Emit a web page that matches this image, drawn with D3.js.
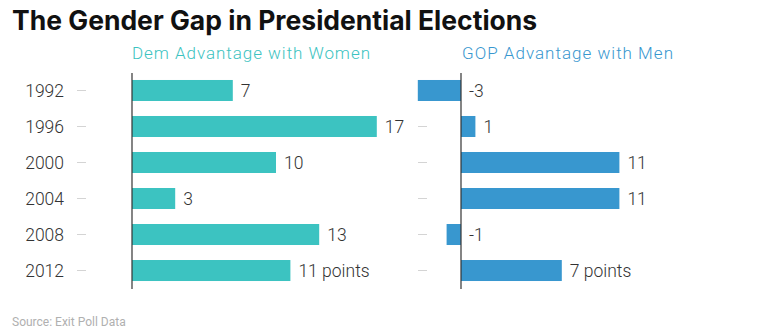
<!DOCTYPE html>
<html>
<head>
<meta charset="utf-8">
<script src="https://cdn.jsdelivr.net/npm/d3@7"></script>
<style>
  body { margin: 0; background: #fff; }
  svg text { font-family: Roboto, "Open Sans", sans-serif; }
</style>
</head>
<body>
<svg id="chart" width="760" height="329"></svg>
<script>
// data
var years = ["1992", "1996", "2000", "2004", "2008", "2012"];
var demWomen = [7, 17, 10, 3, 13, 11];
var gopMen = [-3, 1, 11, 11, -1, 7];

var svg = d3.select("#chart");

// same band scale for both panels
var y = d3.scaleBand()
    .domain(years)
    .range([73, 288])
    .paddingInner(15 / 36)
    .paddingOuter(0.194);

// 14.4 px per point, both panels
var xLeft = d3.scaleLinear().domain([0, 17]).range([132, 376.8]);
var xRight = d3.scaleLinear().domain([-3, 11]).range([461 - 43.2, 461 + 158.4]);

svg.append("text")
    .attr("x", 12).attr("y", 30)
    .style("font-family", "Inter, sans-serif")
    .style("font-weight", "bold")
    .style("font-size", "26.5px")
    .attr("fill", "#111")
    .text("The Gender Gap in Presidential Elections");

svg.append("text")
    .attr("x", 132).attr("y", 59)
    .style("font-weight", 300)
    .style("font-size", "17px")
    .attr("textLength", 238)
    .attr("fill", "#3cc3c1")
    .text("Dem Advantage with Women");

svg.append("text")
    .attr("x", 462).attr("y", 59)
    .style("font-weight", 300)
    .style("font-size", "17px")
    .attr("textLength", 211)
    .attr("fill", "#3897cf")
    .text("GOP Advantage with Men");

// year labels
svg.append("g").selectAll("text")
    .data(years)
    .enter().append("text")
    .attr("x", 64)
    .attr("y", function(d) { return y(d) + y.bandwidth() / 2; })
    .attr("dy", "0.35em")
    .attr("text-anchor", "end")
    .style("font-weight", 300)
    .style("font-size", "17.5px")
    .attr("fill", "#333")
    .text(function(d) { return d; });

function panel(x, values, color, tickX) {
    var g = svg.append("g");

    // little grey ticks left of each panel
    g.selectAll("line.tick")
        .data(years)
        .enter().append("line")
        .attr("class", "tick")
        .attr("x1", tickX).attr("x2", tickX + 9)
        .attr("y1", function(d) { return y(d) + y.bandwidth() / 2; })
        .attr("y2", function(d) { return y(d) + y.bandwidth() / 2; })
        .attr("stroke", "#d4d4d4");

    g.selectAll("rect")
        .data(values)
        .enter().append("rect")
        .attr("x", function(d) { return x(Math.min(0, d)); })
        .attr("y", function(d, i) { return y(years[i]); })
        .attr("width", function(d) { return Math.abs(x(d) - x(0)); })
        .attr("height", y.bandwidth())
        .attr("fill", color);

    g.append("line")
        .attr("x1", x(0)).attr("x2", x(0))
        .attr("y1", 73).attr("y2", 289)
        .attr("stroke", "#333")
        .attr("stroke-width", 1.2);

    g.selectAll("text")
        .data(values)
        .enter().append("text")
        .attr("x", function(d) { return x(Math.max(0, d)) + 8; })
        .attr("y", function(d, i) { return y(years[i]) + y.bandwidth() / 2; })
        .attr("dy", "0.35em")
        .style("font-weight", 300)
        .style("font-size", "17.5px")
        .attr("fill", "#333")
        .text(function(d, i) { return i == values.length - 1 ? d + " points" : d; });
}

panel(xLeft, demWomen, "#3cc3c1", 77);
panel(xRight, gopMen, "#3897cf", 418);

svg.append("text")
    .attr("x", 12).attr("y", 326)
    .style("font-size", "12px")
    .attr("fill", "#b0b0b0")
    .text("Source: Exit Poll Data");
</script>
</body>
</html>
